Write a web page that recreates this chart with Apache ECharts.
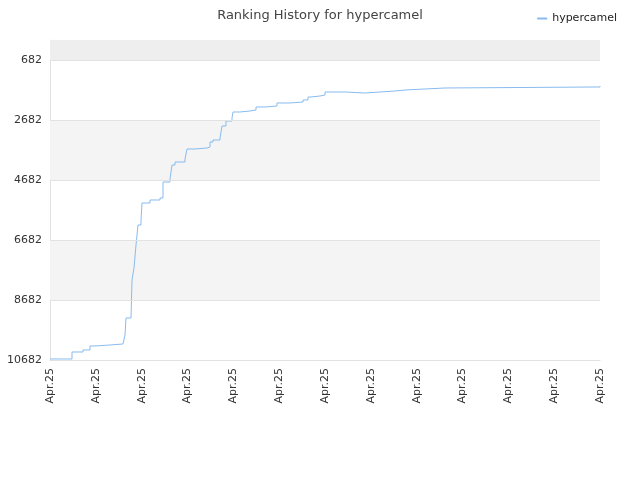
<!DOCTYPE html><html><head><meta charset="utf-8">
<script src="https://cdn.jsdelivr.net/npm/echarts@6/dist/echarts.min.js"></script>
<style>html,body{margin:0}#c{width:640px;height:480px}</style></head><body><div id="c"></div>
<script>
const xPos = [0,22,33,40,45,60,73,75,76,81,82,84,86,88,91,92,100,110,113,120,122,125,135,137,145,157,160,163,170,172,176,182,183,190,200,206,215,227,240,253,258,261,270,275,295,315,330,345,355,375,395,545,550];
const ranks = [10648,10415,10348,10215,10182,10148,10115,9848,9281,9248,8015,7615,6848,6182,6015,5448,5348,5281,4748,4648,4182,4082,3982,3648,3615,3581,3415,3348,3281,2882,2715,2615,2415,2382,2348,2248,2215,2115,2082,2015,1915,1882,1848,1748,1782,1748,1715,1682,1648,1615,1582,1582,1548];
const yTicks = [682,2682,4682,6682,8682,10682];
const xLabel = 'Apr.25';
const bands = [[15,682,'#eeeeee'],[2682,4682,'#f4f4f4'],[6682,8682,'#f4f4f4']];
const chart = echarts.init(document.getElementById('c'));
chart.setOption({
  animation:false,
  title:{text:'Ranking History for hypercamel',left:'center',top:4,textStyle:{fontSize:13,fontWeight:'normal',color:'#444',fontFamily:'DejaVu Sans'}},
  legend:{right:18,top:8,itemWidth:10,itemHeight:2,icon:'rect',textStyle:{fontSize:11,color:'#222',fontFamily:'DejaVu Sans'},data:['hypercamel']},
  grid:{left:50,right:40,top:40,bottom:120},
  xAxis:{type:'value',min:0,max:550,interval:550/12,
    axisLine:{lineStyle:{color:'#ddd'}},axisTick:{show:false},splitLine:{show:false},
    axisLabel:{rotate:90,formatter:()=>xLabel,color:'#333',fontSize:11,fontFamily:'DejaVu Sans',showMaxLabel:true,showMinLabel:true}},
  yAxis:{type:'value',inverse:true,min:15,max:10682,
    axisLine:{show:true,lineStyle:{color:'#e2e2e2'}},axisTick:{show:false},splitLine:{show:false},
    axisLabel:{customValues:yTicks,formatter:v=>String(v),color:'#333',fontSize:11,fontFamily:'DejaVu Sans'}},
  series:[{name:'hypercamel',type:'line',step:'end',symbol:'none',
    lineStyle:{color:'#88bbee',width:1},itemStyle:{color:'#88bbee'},
    data:xPos.map((x,i)=>[x,ranks[i]]),
    markArea:{silent:true,data:bands.map(b=>[{yAxis:b[0],itemStyle:{color:b[2]}},{yAxis:b[1]}])},
    markLine:{silent:true,symbol:'none',label:{show:false},lineStyle:{color:'#e2e2e2',type:'solid',width:1},data:yTicks.map(v=>({yAxis:v}))}
  }]
});
</script></body></html>
